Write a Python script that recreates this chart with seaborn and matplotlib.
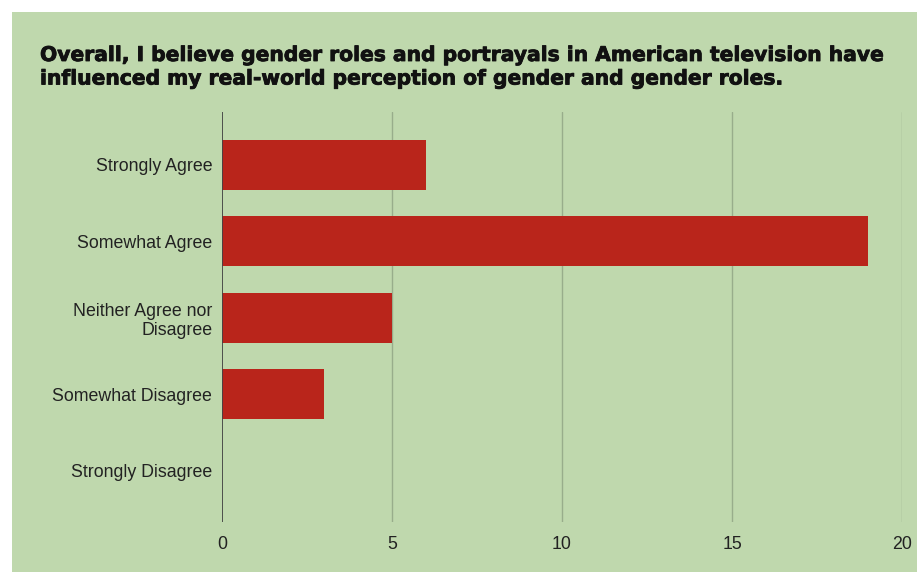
import matplotlib
matplotlib.use("Agg")
import matplotlib.pyplot as plt
import matplotlib.patheffects as pe
import seaborn as sns
import pandas as pd
from matplotlib.patches import Rectangle

responses = ["Strongly Agree", "Somewhat Agree", "Neither Agree nor\nDisagree",
             "Somewhat Disagree", "Strongly Disagree"]
counts = [6, 19, 5, 3, 0]
x_ticks = [0, 5, 10, 15, 20]
title = ("Overall, I believe gender roles and portrayals in American television have\n"
         "influenced my real-world perception of gender and gender roles.")

BG = "#bfd8ad"
BAR = "#b9251b"

sns.set_theme(style="white")
plt.rcParams["font.family"] = ["Liberation Sans", "DejaVu Sans"]

df = pd.DataFrame({"response": responses, "count": counts})

fig = plt.figure(figsize=(9.17, 5.73), dpi=100, facecolor="white")
W, H = 917, 573
fig.patches.append(Rectangle((12 / W, 1 / H), 1 - 12 / W, (H - 13) / H,
                             transform=fig.transFigure, facecolor=BG,
                             edgecolor="none", zorder=-10))

ax = fig.add_axes([222 / W, 1 - 522 / H, (902 - 222) / W, (522 - 112) / H])
ax.patch.set_alpha(0)

sns.barplot(data=df, y="response", x="count", orient="h", color=BAR,
            width=0.65, saturation=1, linewidth=0, ax=ax, zorder=3)

ax.set_xlim(0, 20)
ax.set_ylim(4.67, -0.69)
ax.set_xticks(x_ticks)
ax.set_xticklabels([str(t) for t in x_ticks])
for t in x_ticks[1:]:
    ax.axvline(t, color="#98ad8b", lw=1, zorder=1)
ax.axvline(0, color="#444444", lw=1.3, zorder=4)

for s in ax.spines.values():
    s.set_visible(False)
ax.tick_params(axis="both", length=0, labelsize=12.8, colors="#222222")
ax.tick_params(axis="x", pad=10)
ax.tick_params(axis="y", pad=7)
for lbl in ax.get_yticklabels():
    lbl.set_horizontalalignment("right")
    lbl.set_multialignment("right")
    lbl.set_linespacing(1.2)
ax.set_xlabel("")
ax.set_ylabel("")

fig.text(40 / W, 1 - 46 / H, title, ha="left", va="top", fontsize=14.6,
         fontweight="bold", family=["DejaVu Sans"], color="#111111",
         linespacing=1.3,
         path_effects=[pe.withStroke(linewidth=0.6, foreground="#111111")])

fig.savefig("out.png", dpi=100, facecolor="white")
